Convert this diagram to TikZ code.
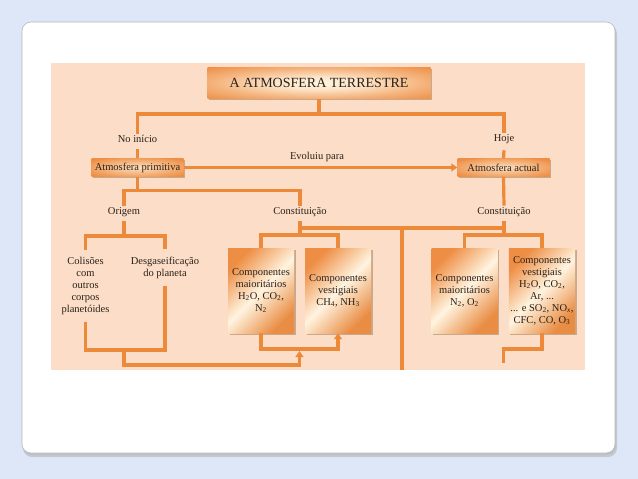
\documentclass[tikz,border=0pt]{standalone}
\usepackage{fontspec}
\setmainfont{Liberation Serif}
\newfontfamily\df{Liberation Serif}
\usetikzlibrary{arrows.meta,shadows}
\definecolor{bgblue}{HTML}{DDE7F7}
\definecolor{panelc}{HTML}{FCDEC8}
\definecolor{lnc}{HTML}{EC8A39}
\definecolor{boxor}{HTML}{EE8E44}
\definecolor{cream}{HTML}{FFF4E0}
\definecolor{txt}{HTML}{2A2119}
\pgfdeclareradialshading{glow}{\pgfpoint{0bp}{0bp}}{color(0bp)=(cream); color(10bp)=(cream!85!boxor); color(24bp)=(cream!35!boxor); color(36bp)=(boxor); color(50bp)=(boxor)}
\pgfdeclareradialshading{softglow}{\pgfpoint{0bp}{0bp}}{color(0bp)=(cream!80!boxor); color(14bp)=(cream!45!boxor); color(32bp)=(boxor); color(50bp)=(boxor)}
\begin{document}
\begin{tikzpicture}[x=1pt,y=-1pt,
  ln/.style={draw=lnc, line width=3.2pt},
  tip/.style={-{Triangle[length=6pt,width=8pt]}},
  lbl/.style={font=\df\fontsize{10.5}{12}\selectfont, text=txt, inner sep=1.5pt, align=center},
  boxshadow/.style={drop shadow={shadow xshift=1.5pt, shadow yshift=-1.5pt, opacity=.4, fill=brown!70!black}},
  cbox/.style={lbl, minimum width=66pt, minimum height=85pt, top color=boxor, bottom color=boxor!90!brown, middle color=cream, shading angle=45, boxshadow},
  sbox/.style={lbl, minimum width=92pt, minimum height=18pt, shading=softglow, boxshadow},
  tbox/.style={font=\df\fontsize{14}{16}\selectfont, text=txt, minimum width=223pt, minimum height=31pt, shading=glow, boxshadow}
]
\useasboundingbox (0,0) rectangle (638,479);
\fill[bgblue] (0,0) rectangle (638,479);
% card
\fill[gray!70, opacity=.45, rounded corners=9pt] (23,25) rectangle (617,457);
\fill[gray!60, opacity=.4, rounded corners=9pt] (22.5,23.5) rectangle (616,455);
\filldraw[fill=white, draw=gray!55, line width=.6pt, rounded corners=9pt] (22,22) rectangle (615,453);
% panel
\fill[panelc] (51,63) rectangle (585,370);

% nodes
\node[tbox] (title) at (319,83) {A ATMOSFERA TERRESTRE};
\node[lbl] (noinicio) at (137.5,139) {No início};
\node[lbl] (hoje) at (504,139) {Hoje};
\node[sbox] (prim) at (137.5,167.5) {Atmosfera primitiva};
\node[sbox] (actual) at (503.5,167.5) {Atmosfera actual};
\node[lbl] (evol) at (317,157) {Evoluiu para};
\node[lbl] (origem) at (124,212) {Origem};
\node[lbl] (const1) at (300,212) {Constituição};
\node[lbl] (const2) at (504,212) {Constituição};
\node[lbl] (colis) at (85.5,285.5) {Colisões\\com\\outros\\corpos\\planetóides};
\node[lbl] (desgas) at (165,267.5) {Desgaseificação\\do planeta};
\node[cbox] (maj1) at (261,290.5) {Componentes\\maioritários\\H\textsubscript{2}O, CO\textsubscript{2},\\N\textsubscript{2}};
\node[cbox] (vest1) at (338,290.5) {Componentes\\vestigiais\\CH\textsubscript{4}, NH\textsubscript{3}};
\node[cbox] (maj2) at (464.5,290.5) {Componentes\\maioritários\\N\textsubscript{2}, O\textsubscript{2}};
\node[cbox] (vest2) at (542,290.5) {Componentes\\vestigiais\\H\textsubscript{2}O, CO\textsubscript{2},\\Ar, ...\\... e SO\textsubscript{2}, NO\textsubscript{\textit{x}},\\CFC, CO, O\textsubscript{3}};

% junction coordinates
\coordinate (j1) at (319,114);
\coordinate (j2) at (137.5,190.5);
\coordinate (j3) at (124,236);
\coordinate (j4) at (124,350);
\coordinate (j4b) at (124,365);
\coordinate (j5) at (299.5,349);
\coordinate (k1) at (300,228);
\coordinate (k2) at (504,228);
\coordinate (k3) at (402,228);
\coordinate (k4) at (402,370);
\coordinate (a1) at (300,235);
\coordinate (a2) at (504,235);
\coordinate (c1) at (503.5,349);
\coordinate (c2) at (503.5,363);

% connectors
\draw[ln] (title.south) -- (j1);
\draw[ln] (noinicio.north) |- (j1) -| (hoje.north);
\draw[ln] ([yshift=-5pt]noinicio.south) -- (prim.north);
\draw[ln] ([yshift=-5pt]hoje.south) -- (actual.north);
\draw[ln,tip] (prim.east) -- (actual.west);
\draw[ln] (prim.south) -- (j2);
\draw[ln] (origem.north) |- (j2) -| (const1.north);
\draw[ln] (actual.south) -- (const2.north);
\draw[ln] ([yshift=-3pt]origem.south) -- (j3);
\draw[ln] ([yshift=5pt]colis.north) |- (j3) -| ([yshift=6pt]desgas.north);
\draw[ln] ([yshift=-6pt]colis.south) |- (j4) -| ([yshift=-6pt]desgas.south);
\draw[ln,tip] (j4) -- (j4b) -| ([yshift=-2pt]j5);
\draw[ln,tip] (maj1.south) |- (j5) -| (vest1.south);
\draw[ln] (k1) -- (k2);
\draw[ln] (k3) -- (k4);
\draw[ln] ([yshift=-3pt]const1.south) -- (a1);
\draw[ln] (maj1.north) |- (a1) -| (vest1.north);
\draw[ln] ([yshift=-3pt]const2.south) -- (a2);
\draw[ln] (maj2.north) |- (a2) -| (vest2.north);
\draw[ln] (vest2.south) |- (c1) -- (c2);
\end{tikzpicture}
\end{document}
